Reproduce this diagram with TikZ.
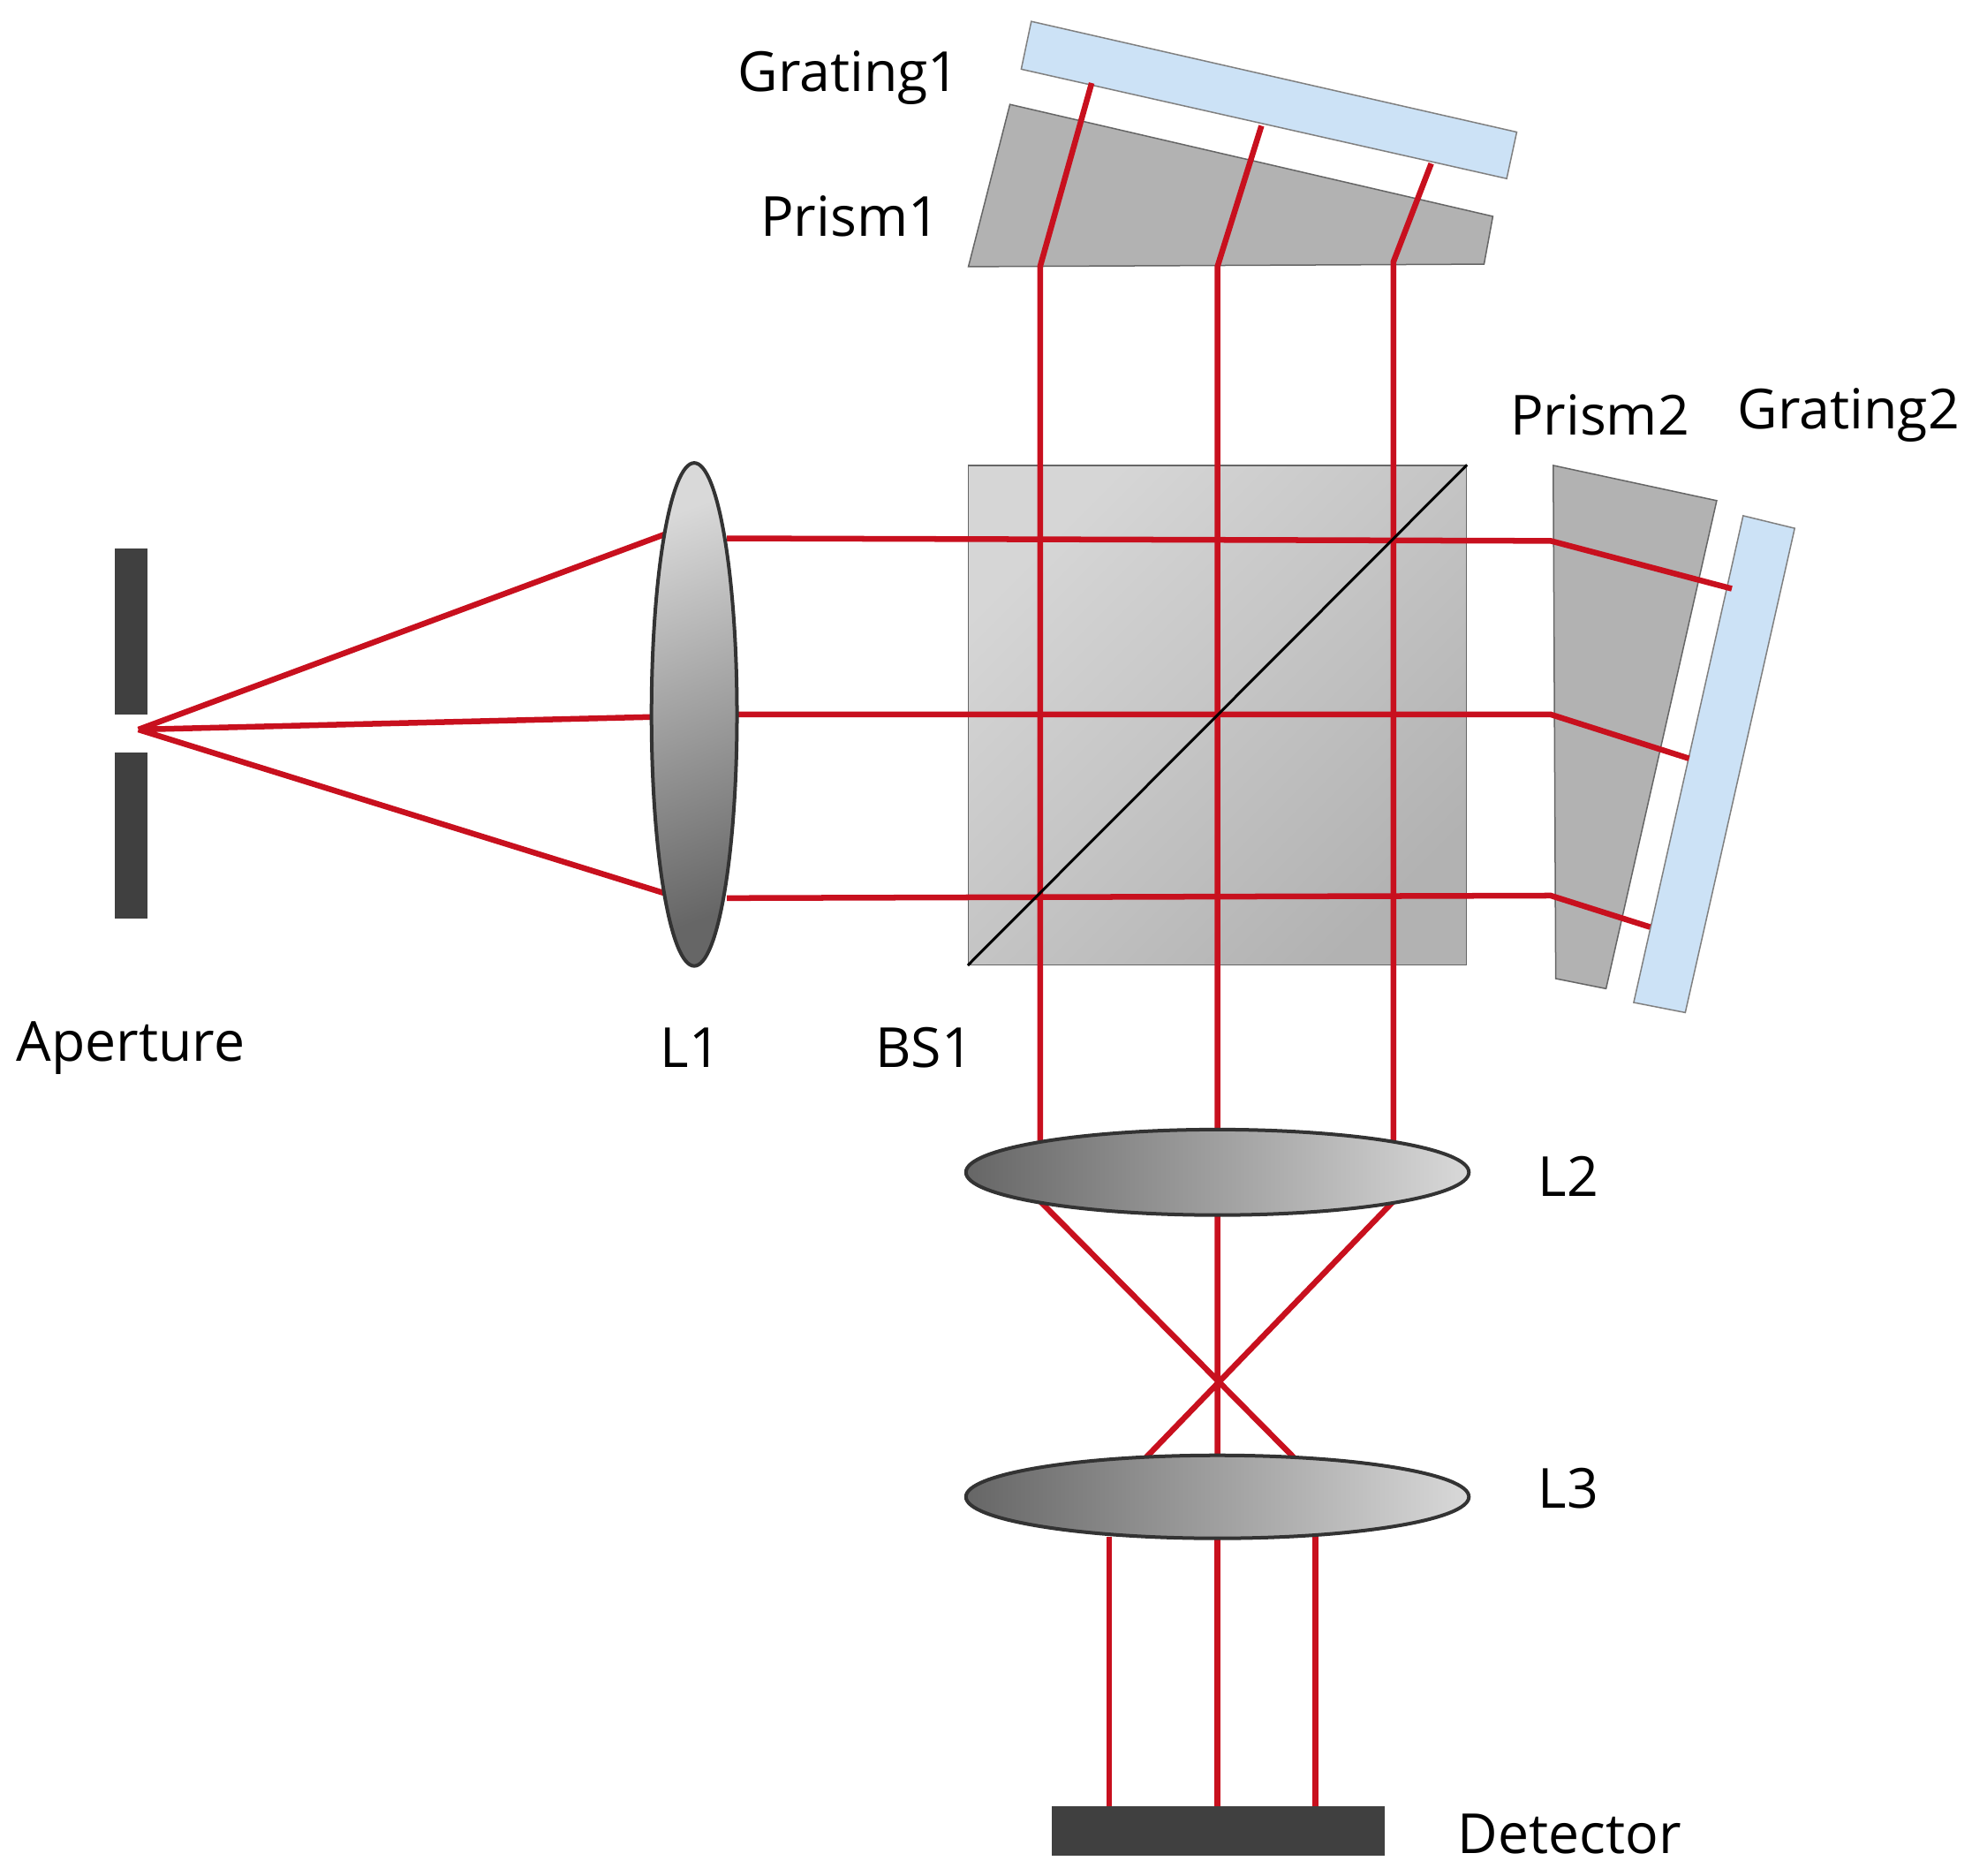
\documentclass[tikz,border=0pt]{standalone}
\usepackage{fontspec}
\setmainfont{Open Sans}
\usetikzlibrary{shapes.geometric}
\definecolor{ray}{RGB}{200,16,30}
\definecolor{glass}{RGB}{178,178,178}
\definecolor{grat}{RGB}{204,226,246}
\definecolor{dark}{RGB}{64,64,64}
\begin{document}
\begin{tikzpicture}[x=0.02cm,y=-0.02cm,
  ray/.style={draw=ray,line width=2.6pt},
  lab/.style={font=\fontsize{25}{25}\selectfont,text=black},
  lens/.style={ellipse,draw=black!80,line width=1.6pt,inner sep=0pt},
  gr/.style={fill=grat,draw=black!50,line width=0.6pt},
  pr/.style={fill=glass,draw=black!60,line width=0.6pt}]
\useasboundingbox (0,0) rectangle (1568,1491);
% aperture
\fill[dark] (91,436) rectangle (117,568);
\fill[dark] (91,598) rectangle (117,730);
\coordinate (F) at (110,580);
% BS cube
\node[draw=black!60,line width=0.6pt,minimum width=7.92cm,minimum height=7.94cm,inner sep=0pt,
  shading=axis,left color=black!16,right color=black!30,shading angle=45] (BS) at (968,568.5) {};
% prisms and gratings
\draw[pr] (770,212)--(803,83)--(1187,172)--(1180,210)--cycle;
\draw[gr] (820,17)--(1206,105)--(1198,142)--(812,55)--cycle;
\draw[pr] (1235,370)--(1365,398)--(1277,786)--(1237,778)--cycle;
\draw[gr] (1386,410)--(1427,420)--(1340,805)--(1299,797)--cycle;
% rays
\draw[ray] (F)--(528,425) (F)--(518,570) (F)--(528,710);
\draw[ray] (578,428)--(1233,430)--(1377,468);
\draw[ray] (586,568)--(1233,568)--(1343,603);
\draw[ray] (578,714)--(1233,712)--(1312,737);
\draw[ray] (868,66)--(827,212)--(827,907);
\draw[ray] (1003,100)--(968,212)--(968,900);
\draw[ray] (1138,130)--(1108,208)--(1108,907);
\draw[black,line width=1.2pt] (BS.south west)--(BS.north east);
% L2-L3 rays
\draw[ray] (827,955)--(1030,1160) (1108,955)--(910,1160) (968,965)--(968,1160);
\draw[ray] (882,1222)--(882,1436) (968,1222)--(968,1436) (1046,1222)--(1046,1436);
% lenses
\node[lens,minimum width=1.36cm,minimum height=8cm,shading=axis,top color=black!15,bottom color=black!60,shading angle=20] (L1) at (552,568) {};
\node[lens,minimum width=8cm,minimum height=1.36cm,shading=axis,left color=black!60,right color=black!15] (L2) at (968,932) {};
\node[lens,minimum width=8cm,minimum height=1.32cm,shading=axis,left color=black!60,right color=black!15] (L3) at (968,1190) {};
% detector
\fill[dark] (836,1436) rectangle (1101,1475);
% labels
\node[lab] at (675,62) {Grating1};
\node[lab] at (676,172) {Prism1};
\node[lab] at (1272,330) {Prism2};
\node[lab] at (1470,330) {Grating2};
\node[lab] at (104,833) {Aperture};
\node[lab] at (549,833) {L1};
\node[lab] at (735,833) {BS1};
\node[lab] at (1247,935) {L2};
\node[lab] at (1247,1183) {L3};
\node[lab] at (1248,1458) {Detector};
\end{tikzpicture}
\end{document}
